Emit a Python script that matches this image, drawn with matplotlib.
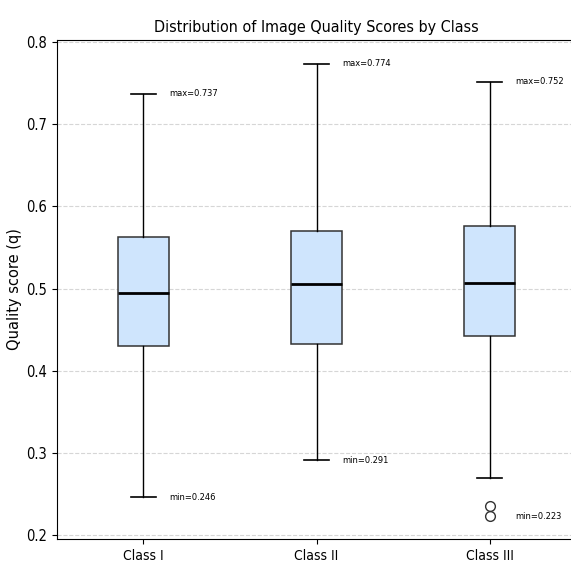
import matplotlib
matplotlib.use("Agg")
import matplotlib.pyplot as plt

plt.rcParams["font.family"] = ["DejaVu Sans"]
plt.rcParams["font.stretch"] = "condensed"

# 数据：箱线图统计量
classes = ["Class I", "Class II", "Class III"]
q1 = [0.430, 0.433, 0.442]
med = [0.495, 0.505, 0.507]
q3 = [0.563, 0.570, 0.576]
whislo = [0.246, 0.291, 0.269]
whishi = [0.737, 0.774, 0.752]
fliers = [[], [], [0.235, 0.223]]
data_min = [0.246, 0.291, 0.223]
data_max = [0.737, 0.774, 0.752]

stats = []
for i in range(len(classes)):
    stats.append({"label": classes[i], "q1": q1[i], "med": med[i], "q3": q3[i],
                  "whislo": whislo[i], "whishi": whishi[i], "fliers": fliers[i]})

fig = plt.figure(figsize=(5.71, 5.65), dpi=100)
ax = fig.add_axes([0.0998, 0.046, 0.909, 0.883])

ax.bxp(stats, positions=[1, 2, 3], widths=0.3, patch_artist=True,
       boxprops=dict(facecolor="#cfe5fd", edgecolor="#333333", linewidth=1.1),
       medianprops=dict(color="black", linewidth=2),
       whiskerprops=dict(color="black", linewidth=1),
       capprops=dict(color="black", linewidth=1.2),
       flierprops=dict(marker="o", markerfacecolor="none", markeredgecolor="#333333",
                       markersize=7))

# 标注最大值和最小值
for i in range(len(classes)):
    ax.text(i + 1 + 0.15, data_max[i], "max=%.3f" % data_max[i],
            fontsize=6.7, ha="left", va="center")
    ax.text(i + 1 + 0.15, data_min[i], "min=%.3f" % data_min[i],
            fontsize=6.7, ha="left", va="center")

ax.set_xlim(0.5, 3.5)
ax.set_ylim(0.195, 0.8025)
ax.set_yticks([0.2, 0.3, 0.4, 0.5, 0.6, 0.7, 0.8])
ax.set_xticklabels(classes, fontsize=10)
ax.tick_params(axis="y", labelsize=10.5)
ax.yaxis.grid(True, linestyle="--", color="#cccccc", alpha=0.8, linewidth=0.8)
ax.set_axisbelow(True)
ax.set_ylabel("Quality score (q)", fontsize=10.5, fontstretch="normal", labelpad=3)
ax.set_title("Distribution of Image Quality Scores by Class", fontsize=11.5)

plt.savefig("out.png", dpi=100)
